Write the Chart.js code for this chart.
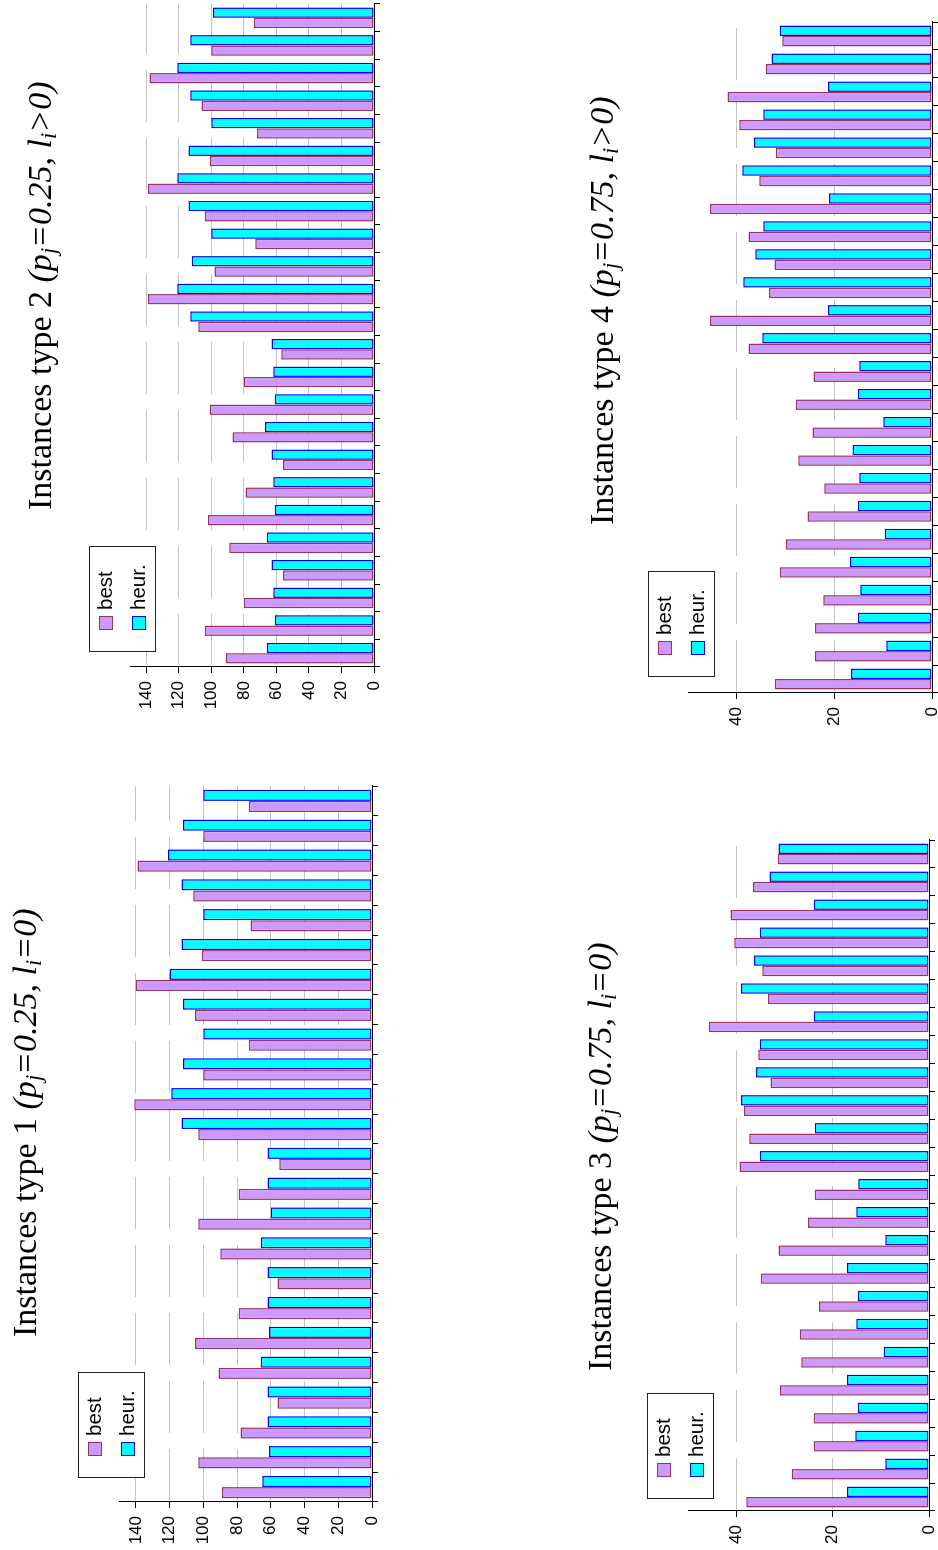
<!DOCTYPE html>
<html>
<head>
<meta charset="utf-8">
<script src="https://cdn.jsdelivr.net/npm/chart.js@4.4.0/dist/chart.umd.min.js"></script>
<style>
  html, body { margin: 0; padding: 0; background: #fff; overflow: hidden; }
  body { width: 938px; height: 1550px; position: relative; }
  /* each panel is drawn upright, then turned a quarter turn to the left */
  .panel { position: absolute; transform-origin: 0 0; transform: rotate(-90deg); }
  .panel canvas { position: absolute; left: 0; top: 0; }
  .title { position: absolute; white-space: nowrap; color: #000;
           font: 34px/1 "Liberation Serif", "Times New Roman", serif; }
  .title sub { font-size: 0.66em; vertical-align: -0.22em; line-height: 0; }
  .legend { position: absolute; width: 106px; height: 67px; box-sizing: border-box;
            border: 1px solid #222; background: #fff;
            font: 20.5px/1 "Liberation Sans", Arial, sans-serif; color: #000; }
  .legend .sw { position: absolute; left: 21px; width: 14px; height: 14px;
                box-sizing: border-box; border: 1px solid; }
  .legend .lb { position: absolute; left: 41px; white-space: nowrap; }
</style>
</head>
<body>
<script>
const CATEGORIES = ["1", "2", "3", "4", "5", "6", "7", "8", "9", "10", "11", "12",
  "13", "14", "15", "16", "17", "18", "19", "20", "21", "22", "23", "24"];

const BEST_1 = [89, 103, 78, 56, 91, 105, 79, 56, 90, 103, 79, 55,
  103, 141, 100, 73, 105, 140, 101, 72, 106, 139, 100, 73];
const HEUR_1 = [65, 61, 62, 62, 66, 61, 62, 62, 66, 60, 62, 62,
  113, 119, 112, 100, 112, 120, 113, 100, 113, 121, 112, 100];

const BEST_2 = [91, 104, 80, 56, 89, 102, 79, 56, 87, 101, 80, 57,
  108, 139, 98, 73, 104, 139, 101, 72, 106, 138, 100, 74];
const HEUR_2 = [66, 61, 62, 63, 66, 61, 62, 63, 67, 61, 62, 63,
  113, 121, 112, 100, 114, 121, 114, 100, 113, 121, 113, 99];

const BEST_3 = [37.9, 28.5, 23.9, 23.9, 30.9, 26.5, 26.8, 22.8, 34.9, 31.2, 25.1, 23.7,
  39.3, 37.3, 38.4, 32.9, 35.4, 45.7, 33.4, 34.6, 40.4, 41.2, 36.5, 31.4];
const HEUR_3 = [17.0, 9.1, 15.3, 14.8, 17.0, 9.4, 15.1, 14.8, 17.0, 9.1, 15.1, 14.7,
  35.1, 23.7, 39.0, 35.9, 35.1, 23.9, 39.0, 36.3, 35.1, 23.9, 33.1, 31.2];

const BEST_4 = [32.2, 24.0, 24.0, 22.3, 31.2, 29.9, 25.5, 22.1, 27.4, 24.5, 27.9, 24.3,
  37.6, 45.5, 33.4, 32.3, 37.6, 45.5, 35.4, 32.0, 39.5, 41.9, 34.0, 30.7];
const HEUR_4 = [16.6, 9.4, 15.2, 14.7, 16.8, 9.7, 15.2, 14.9, 16.3, 10.0, 15.2, 14.9,
  34.8, 21.3, 38.7, 36.2, 34.6, 21.1, 38.9, 36.5, 34.6, 21.3, 32.9, 31.2];

const SERIES = ["best", "heur."];
const BEST_FILL = "#cc99ff", BEST_LINE = "#993366";
const HEUR_FILL = "#00ffff", HEUR_LINE = "#0000ff";
const GRID = "#c4c4c4";

// left/bottom: where the turned panel lands on the page; area: plot box in upright coords
const PANELS = [
  { type: 1, p: "0.25", rel: "=", best: BEST_1, heur: HEUR_1, max: 150,
    left: 0, bottom: 1550, w: 780, h: 400,
    area: { left: 48, right: 764, top: 119, bottom: 372 },
    legend: [72, 78], title: [213, 7.5] },
  { type: 2, p: "0.25", rel: ">", best: BEST_2, heur: HEUR_2, max: 150,
    left: 0, bottom: 730, w: 730, h: 400,
    area: { left: 63, right: 726, top: 130, bottom: 374 },
    legend: [78, 89], title: [220, 23.2] },
  { type: 3, p: "0.75", rel: "=", best: BEST_3, heur: HEUR_3, max: 50,
    left: 540, bottom: 1550, w: 730, h: 398,
    area: { left: 39, right: 710, top: 148, bottom: 389 },
    legend: [51, 107], title: [179, 43.2] },
  { type: 4, p: "0.75", rel: ">", best: BEST_4, heur: HEUR_4, max: 50,
    left: 540, bottom: 740, w: 740, h: 398,
    area: { left: 47, right: 718, top: 148, bottom: 392 },
    legend: [63, 108], title: [215, 44.8] },
];

function addTitle(box, cfg) {
  const t = document.createElement("div");
  t.className = "title";
  t.style.left = cfg.title[0] + "px";
  t.style.top = cfg.title[1] + "px";
  t.innerHTML = `Instances type ${cfg.type} <i>(p<sub>j</sub>=${cfg.p}, l<sub>i</sub>${cfg.rel === ">" ? "&gt;" : "="}0)</i>`;
  box.appendChild(t);
}

function addLegend(box, cfg, datasets) {
  const lg = document.createElement("div");
  lg.className = "legend";
  lg.style.left = cfg.legend[0] + "px";
  lg.style.top = cfg.legend[1] + "px";
  datasets.forEach((ds, i) => {
    const sw = document.createElement("div");
    sw.className = "sw";
    sw.style.top = (9.3 + i * 33) + "px";
    sw.style.background = ds.backgroundColor;
    sw.style.borderColor = ds.borderColor;
    const lb = document.createElement("div");
    lb.className = "lb";
    lb.style.top = (5.4 + i * 33) + "px";
    lb.textContent = ds.label;
    lg.appendChild(sw);
    lg.appendChild(lb);
  });
  box.appendChild(lg);
}

function drawPanel(cfg) {
  const box = document.createElement("div");
  box.className = "panel";
  Object.assign(box.style, {
    left: cfg.left + "px", top: cfg.bottom + "px",
    width: cfg.w + "px", height: cfg.h + "px",
  });
  const canvas = document.createElement("canvas");
  canvas.width = cfg.w; canvas.height = cfg.h;
  canvas.style.width = cfg.w + "px"; canvas.style.height = cfg.h + "px";
  box.appendChild(canvas);
  document.body.appendChild(box);

  const a = cfg.area;
  const datasets = [
    { label: SERIES[0], data: cfg.best, backgroundColor: BEST_FILL,
      borderColor: BEST_LINE, borderWidth: 1.5, borderSkipped: false },
    { label: SERIES[1], data: cfg.heur, backgroundColor: HEUR_FILL,
      borderColor: HEUR_LINE, borderWidth: 1.5, borderSkipped: false },
  ];

  new Chart(canvas, {
    type: "bar",
    data: { labels: CATEGORIES, datasets },
    options: {
      responsive: false, animation: false, devicePixelRatio: 1,
      layout: { padding: { left: 0, top: a.top, right: cfg.w - a.right, bottom: 0 } },
      plugins: { legend: { display: false }, tooltip: { enabled: false } },
      datasets: { bar: { categoryPercentage: 0.75, barPercentage: 1 } },
      scales: {
        x: {
          offset: true,
          ticks: { display: false },
          grid: { offset: true, drawOnChartArea: false, tickLength: 6,
                  tickColor: "#000", tickWidth: 1 },
          border: { color: "#000", width: 1 },
          afterFit: s => { s.height = cfg.h - a.bottom; s.paddingLeft = 0; s.paddingRight = 0; },
        },
        y: {
          min: 0, max: cfg.max,
          ticks: { stepSize: 20, includeBounds: false, color: "#000", padding: 8,
                   font: { family: "Liberation Sans", size: 17 } },
          grid: { color: c => (c.tick && c.tick.value === 0) ? "rgba(0,0,0,0)" : GRID,
                  lineWidth: 1, tickLength: 6, tickColor: "#000", tickWidth: 1,
                  tickBorderDash: [] },
          border: { color: "#000", width: 1, dash: [52, 16] },
          afterFit: s => { s.width = a.left; s.paddingTop = 0; s.paddingBottom = 0; },
        },
      },
    },
  });

  addTitle(box, cfg);
  addLegend(box, cfg, datasets);
}

PANELS.forEach(drawPanel);
</script>
</body>
</html>
